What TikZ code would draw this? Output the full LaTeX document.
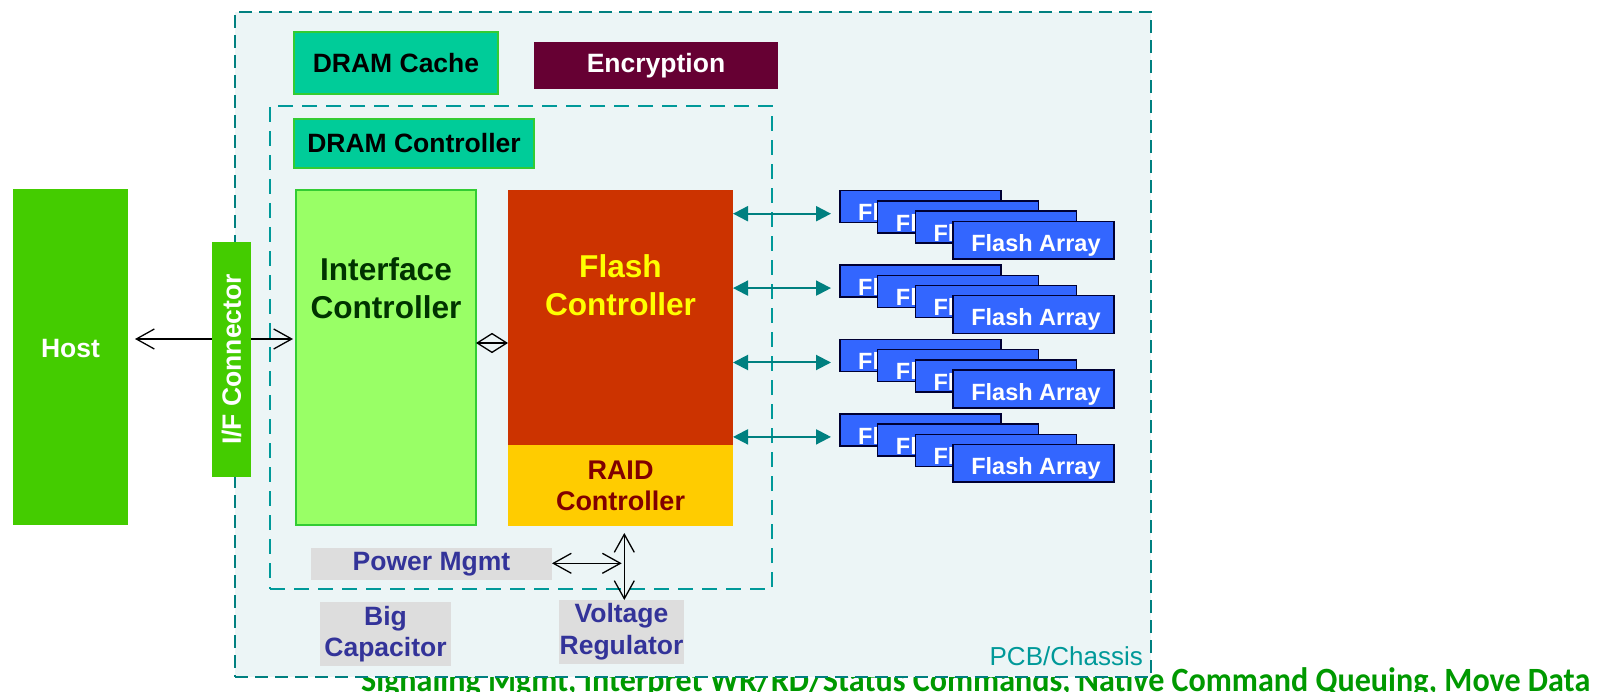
\documentclass[tikz,border=0pt]{standalone}
\usepackage{fontspec}
\setmainfont{Liberation Sans}
\newfontfamily\calibfont{Carlito}
\usepackage{graphicx}
\usetikzlibrary{arrows.meta,positioning,calc}

\definecolor{pcbfill}{RGB}{236,245,246}
\definecolor{pcbline}{RGB}{0,128,128}
\definecolor{chipline}{RGB}{0,153,153}
\definecolor{hostgreen}{RGB}{68,204,0}
\definecolor{ifcfill}{RGB}{153,255,102}
\definecolor{ifcedge}{RGB}{51,204,51}
\definecolor{ifctext}{RGB}{0,51,0}
\definecolor{dramfill}{RGB}{0,204,153}
\definecolor{cryptfill}{RGB}{102,0,51}
\definecolor{fcfill}{RGB}{204,51,0}
\definecolor{fctext}{RGB}{255,255,0}
\definecolor{raidfill}{RGB}{255,204,0}
\definecolor{raidtext}{RGB}{128,0,0}
\definecolor{flashblue}{RGB}{51,102,255}
\definecolor{flashedge}{RGB}{0,0,51}
\definecolor{busteal}{RGB}{0,128,128}
\definecolor{mgmtgray}{RGB}{221,221,221}
\definecolor{mgmtblue}{RGB}{51,51,153}
\definecolor{pcbtext}{RGB}{0,153,153}
\definecolor{siggreen}{RGB}{0,153,0}

\tikzstyle{lbl}=[inner sep=0pt, align=center, font=\bfseries\fontsize{26.5}{31.6}\selectfont]
\tikzstyle{biglbl}=[inner sep=0pt, align=center, font=\bfseries\fontsize{31.6}{38}\selectfont]
\tikzstyle{box}=[lbl, outer sep=0pt, anchor=north west]
\tikzstyle{gray box}=[box, fill=mgmtgray, text=mgmtblue]
\tikzstyle{dram box}=[box, fill=dramfill, draw=ifcedge, line width=1.2pt]
\tikzstyle{fabox}=[box, fill=flashblue, draw=flashedge, line width=1.5pt, minimum width=161]
\tikzstyle{fatxt}=[anchor=base west, inner sep=0pt, text=white, font=\bfseries\fontsize{23.5}{28}\selectfont]
\tikzstyle{pcb}=[box, fill=pcbfill, draw=pcbline, line width=2pt, dash pattern=on 13pt off 7pt]
\tikzstyle{chip}=[box, draw=chipline, line width=2.5pt, dash pattern=on 15pt off 9pt]
\tikzstyle{bus}=[draw=busteal, line width=2pt, {Triangle[length=15pt,width=15pt]}-{Triangle[length=15pt,width=15pt]}]
\tikzstyle{wire}=[line width=1.3pt, {Straight Barb[length=18pt,width=20pt]}-{Straight Barb[length=18pt,width=20pt]}]

\begin{document}
\begin{tikzpicture}[x=1pt,y=-1pt]
\useasboundingbox (0,0) rectangle (1598,692);

% line of text that the board half hides
\node[anchor=base west, inner sep=0pt, text=siggreen] (sig) at (361,691)
  {\resizebox{1229pt}{\height}{\calibfont\bfseries\fontsize{34}{40}\selectfont Signaling Mgmt, Interpret WR/RD/Status Commands, Native Command Queuing, Move Data}};

% board and chip outlines
\node[pcb, minimum width=916, minimum height=665] (board) at (235,12) {};
\node[anchor=base east, inner sep=0pt, text=pcbtext, font=\fontsize{26}{30}\selectfont] (boardlbl) at (1143,665) {PCB/Chassis};
\node[chip, minimum width=502, minimum height=483] (asic) at (270,106) {};

\node[box, fill=hostgreen, minimum width=115, minimum height=336,
      label={[lbl, text=white, yshift=8pt]center:Host}] (host) at (13,189) {};
\node[dram box, minimum width=204, minimum height=62] (dcache) at (294,32) {DRAM Cache};
\node[box, fill=cryptfill, text=white, minimum width=244, minimum height=47] (crypt) at (534,42) {Encryption};
\node[dram box, minimum width=240, minimum height=49] (dctrl) at (294,119) {DRAM Controller};

\node[box, fill=ifcfill, draw=ifcedge, line width=1.5pt, minimum width=180, minimum height=335] (ifc) at (296,190) {};
\node[biglbl, text=ifctext] (ifctxt) at ($(ifc.north)+(0,98)$) {Interface\\Controller};
\node[box, fill=fcfill, minimum width=225, minimum height=255] (fc) at (508,190) {};
\node[biglbl, text=fctext] (fctxt) at ($(fc.north)+(0,95)$) {Flash\\Controller};
\node[box, fill=raidfill, minimum width=225, minimum height=81,
      font=\bfseries\fontsize{27}{31}\selectfont, text=raidtext] (rc) at (508,445) {RAID\\Controller};

\node[gray box, minimum width=241, minimum height=32] (pm) at (311,548) {Power Mgmt};
\node[gray box, minimum width=131, minimum height=64] (bc) at (320,602) {Big\\Capacitor};
\node[gray box, minimum width=125, minimum height=64] (vr) at (559,600) {Voltage\\Regulator};

% flash arrays, four stacks of four
\foreach \g in {0,...,3}{
  \foreach \k in {0,...,3}{
    \pgfmathsetmacro\fh{ifthenelse(\k==3,37.7,32)}
    \node[fabox, minimum height=\fh] (fa\g\k) at ({840+37.7*\k},{190.7+74.4*\g+10.2*\k}) {};
    \node[fatxt] (fat\g\k) at ($(fa\g\k.north west)+(18,30.3)$) {Flash Array};
  }
  \coordinate (bp\g) at ($(fa\g0.north west)+(0,23)$);
  \draw[bus, shorten >=9pt] (fc.east |- bp\g) -- (bp\g);
}

% host link, drawn under the connector
\coordinate (hy) at (0,339);
\draw[wire, shorten <=7pt, shorten >=3pt] (host.east |- hy) -- (ifc.west |- hy);
\node[lbl, fill=hostgreen, text=white, rotate=90, minimum width=235, minimum height=39] (ifcon) at (231.5,359.5) {I/F Connector};

\coordinate (dy) at (0,343);
\draw[line width=1.3pt, {Straight Barb[length=15pt,width=19pt]}-{Straight Barb[length=15pt,width=19pt]}] (ifc.east |- dy) -- (fc.west |- dy);

\coordinate (jn) at (624.3,563.3);
\draw[wire, shorten >=2.6pt] (pm.east |- jn) -- (jn);
\draw[wire, shorten <=7pt] (rc.south -| jn) -- (vr.north -| jn);
\end{tikzpicture}
\end{document}
